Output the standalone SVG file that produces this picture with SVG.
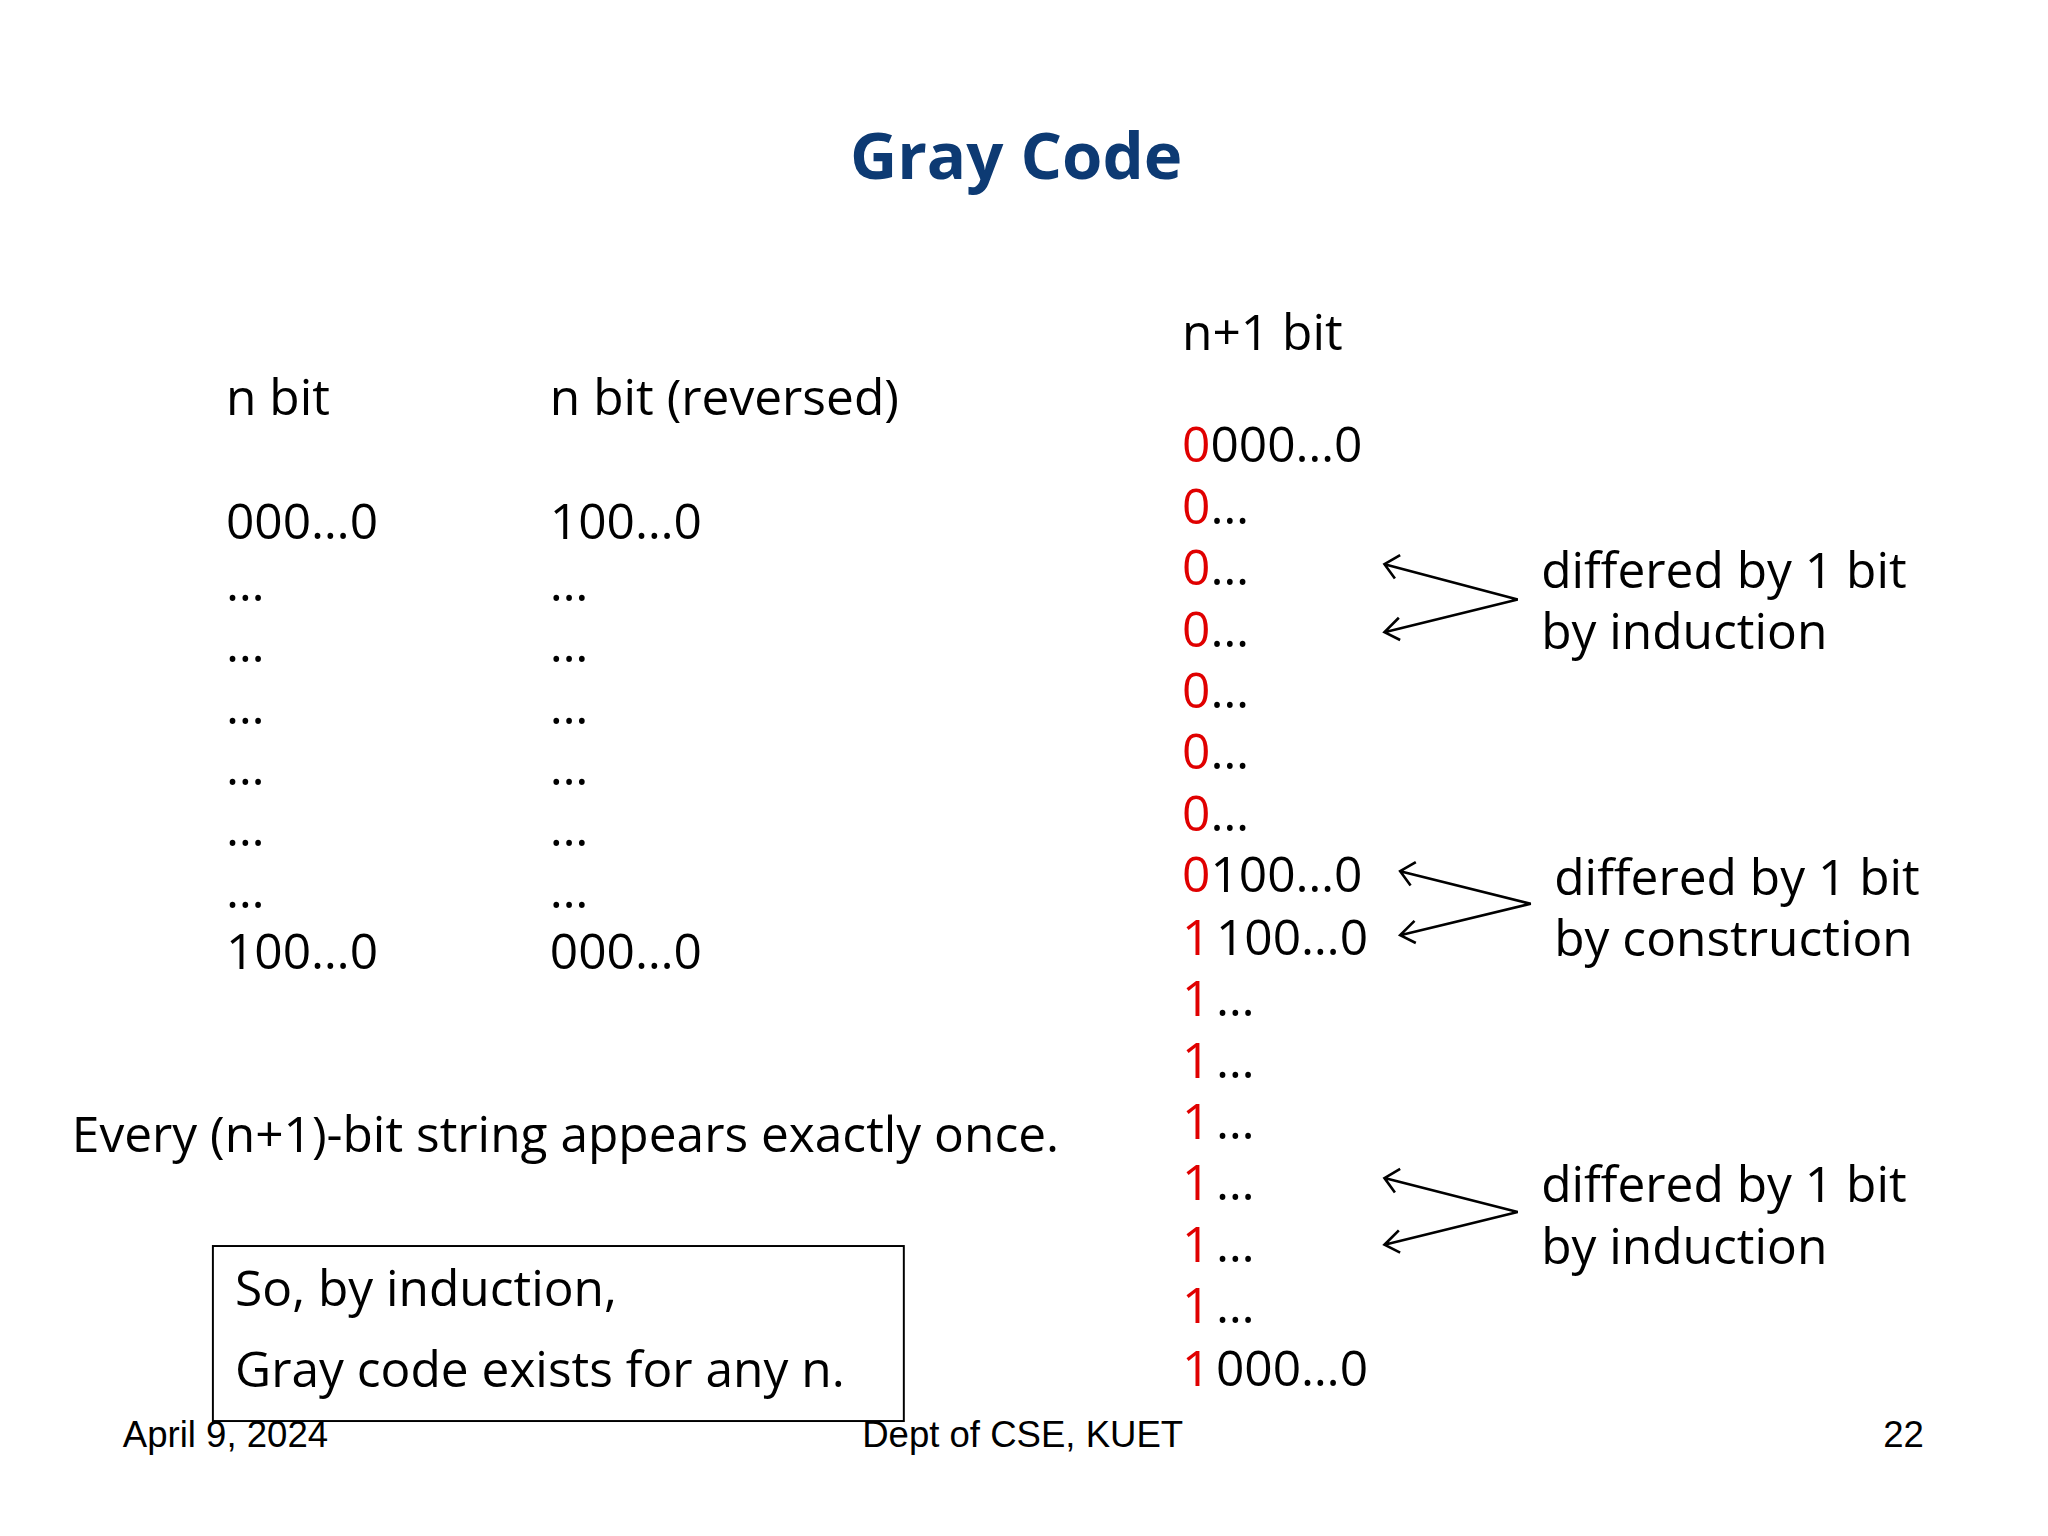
<svg xmlns="http://www.w3.org/2000/svg" width="2048" height="1536" viewBox="0 0 2048 1536">
<style>
.t{font-family:"Open Sans","DejaVu Sans",sans-serif;font-size:38px;fill:#000}
.r{fill:#e00000}
.f{font-family:"Liberation Sans",Arial,sans-serif;font-size:28px;fill:#000}
.a{fill:none;stroke:#000;stroke-width:2}
</style>
<rect width="2048" height="1536" fill="#fff"/>
<g transform="scale(1.3061)">
<g id="title"><text x="778" y="137" text-anchor="middle" style="font-family:'Open Sans',sans-serif;font-size:50px;font-weight:bold;fill:#0d3a73">Gray Code</text></g>
<g id="left-col">
<text class="t" x="173" y="318">n bit</text>
<text class="t" x="173" y="413">000…0</text>
<text class="t" x="173" y="460">…</text>
<text class="t" x="173" y="507">…</text>
<text class="t" x="173" y="554">…</text>
<text class="t" x="173" y="601">…</text>
<text class="t" x="173" y="648">…</text>
<text class="t" x="173" y="695">…</text>
<text class="t" x="173" y="742">100…0</text>
</g>
<g id="mid-col">
<text class="t" x="421" y="318">n bit (reversed)</text>
<text class="t" x="421" y="413">100…0</text>
<text class="t" x="421" y="460">…</text>
<text class="t" x="421" y="507">…</text>
<text class="t" x="421" y="554">…</text>
<text class="t" x="421" y="601">…</text>
<text class="t" x="421" y="648">…</text>
<text class="t" x="421" y="695">…</text>
<text class="t" x="421" y="742">000…0</text>
</g>
<g id="right-col">
<text class="t" x="905" y="268">n+1 bit</text>
<text class="t" x="905" y="354"><tspan class="r">0</tspan>000…0</text>
<text class="t" x="905" y="401"><tspan class="r">0</tspan>…</text>
<text class="t" x="905" y="448"><tspan class="r">0</tspan>…</text>
<text class="t" x="905" y="495"><tspan class="r">0</tspan>…</text>
<text class="t" x="905" y="542"><tspan class="r">0</tspan>…</text>
<text class="t" x="905" y="589"><tspan class="r">0</tspan>…</text>
<text class="t" x="905" y="636"><tspan class="r">0</tspan>…</text>
<text class="t" x="905" y="683"><tspan class="r">0</tspan>100…0</text>
<text class="t r" x="905" y="731">1</text><text class="t" x="931" y="731">100…0</text>
<text class="t r" x="905" y="778">1</text><text class="t" x="931" y="778">…</text>
<text class="t r" x="905" y="825">1</text><text class="t" x="931" y="825">…</text>
<text class="t r" x="905" y="872">1</text><text class="t" x="931" y="872">…</text>
<text class="t r" x="905" y="919">1</text><text class="t" x="931" y="919">…</text>
<text class="t r" x="905" y="966">1</text><text class="t" x="931" y="966">…</text>
<text class="t r" x="905" y="1013">1</text><text class="t" x="931" y="1013">…</text>
<text class="t r" x="905" y="1061">1</text><text class="t" x="931" y="1061">000…0</text>
</g>
<g id="connectors">
<path class="a" d="M1060,432 L1162,459 L1060,484 M1072,425 L1060,432 L1068,443 M1071,473 L1060,484 L1072,490"/>
<path class="a" d="M1072,667 L1172,692 L1072,716 M1084,660 L1072,667 L1080,678 M1083,705 L1072,716 L1084,722"/>
<path class="a" d="M1060,902 L1162,928 L1060,953 M1072,895 L1060,902 L1068,913 M1071,942 L1060,953 L1072,959"/>
</g>
<g id="label1"><text class="t" x="1180" y="450">differed by 1 bit</text><text class="t" x="1180" y="497">by induction</text></g>
<g id="label2"><text class="t" x="1190" y="685">differed by 1 bit</text><text class="t" x="1190" y="732">by construction</text></g>
<g id="label3"><text class="t" x="1180" y="920">differed by 1 bit</text><text class="t" x="1180" y="968">by induction</text></g>
<g id="statement"><text class="t" x="55" y="882">Every (n+1)-bit string appears exactly once.</text></g>
<g id="box">
<rect x="163" y="954" width="529" height="134" fill="none" stroke="#000" stroke-width="1.5"/>
<text class="t" x="180" y="1000">So, by induction,</text>
<text class="t" x="180" y="1062">Gray code exists for any n.</text>
</g>
<g id="footer">
<text class="f" x="94" y="1108">April 9, 2024</text>
<text class="f" x="783" y="1108" text-anchor="middle">Dept of CSE, KUET</text>
<text class="f" x="1473" y="1108" text-anchor="end">22</text>
</g>
</g>
</svg>
